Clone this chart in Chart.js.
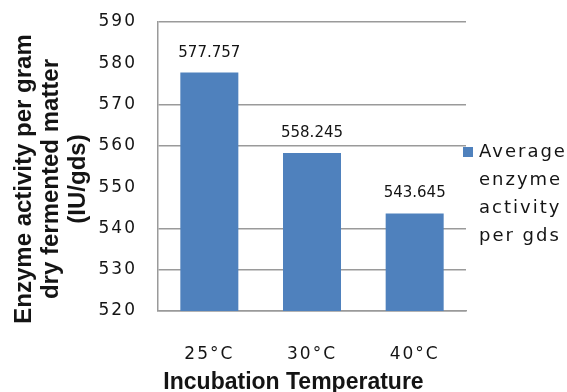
<!DOCTYPE html>
<html>
<head>
<meta charset="utf-8">
<script src="https://cdn.jsdelivr.net/npm/chart.js@4.4.1/dist/chart.umd.min.js"></script>
<style>
  html, body { margin: 0; padding: 0; background: #ffffff; }
  #wrap { width: 567px; height: 392px; position: relative; }
</style>
</head>
<body>
<div id="wrap"><canvas id="c"></canvas></div>
<script>
// Incubation temperatures and the measured enzyme activity (IU/gds)
const temperatures = ['25°C', '30°C', '40°C'];
const enzymeActivity = [577.757, 558.245, 543.645];
const seriesLabel = ['Average', 'enzyme', 'activity', 'per gds'];
const yTitleLines = ['Enzyme activity per gram', 'dry fermented matter', '(IU/gds)'];
const xTitle = 'Incubation Temperature';
const yMin = 520, yMax = 590, yStep = 10;
const faintTicks = [550, 580];

const barBlue = '#4F81BD';
const lineGrey = '#9a9a9a';
const inkColor = '#141414';
const wideSpacing = '2px';

// wider letter spacing for the axis tick text
const spacing = {
  id: 'spacing',
  beforeUpdate(chart) { chart.ctx.letterSpacing = wideSpacing; },
  beforeDraw(chart) { chart.ctx.letterSpacing = wideSpacing; }
};

// value labels above bars, side legend and axis titles
const annotate = {
  id: 'annotate',
  afterDatasetsDraw(chart) {
    const ctx = chart.ctx;
    const meta = chart.getDatasetMeta(0);
    ctx.save();
    ctx.letterSpacing = '0px';
    ctx.font = '15px "DejaVu Sans"';
    ctx.fillStyle = inkColor;
    ctx.textAlign = 'center';
    ctx.textBaseline = 'alphabetic';
    meta.data.forEach((bar, i) => {
      ctx.fillText(enzymeActivity[i].toFixed(3), bar.x, bar.y - 16);
    });
    ctx.restore();
  },
  afterDraw(chart) {
    const ctx = chart.ctx;
    const area = chart.chartArea;
    ctx.save();
    // legend
    ctx.fillStyle = barBlue;
    ctx.fillRect(area.right - 3, 147, 10, 10);
    ctx.fillStyle = inkColor;
    ctx.letterSpacing = wideSpacing;
    ctx.font = '18px "DejaVu Sans"';
    ctx.textAlign = 'left';
    ctx.textBaseline = 'middle';
    seriesLabel.forEach((t, i) => ctx.fillText(t, area.right + 13, 152 + i * 28));
    // axis titles
    ctx.letterSpacing = '0px';
    ctx.font = 'bold 23px "Liberation Sans"';
    ctx.textAlign = 'center';
    ctx.textBaseline = 'alphabetic';
    ctx.fillText(xTitle, 293.5, 389);
    ctx.font = 'bold 24px "Liberation Sans"';
    ctx.translate(0, 179);
    ctx.rotate(-Math.PI / 2);
    yTitleLines.forEach((t, i) => ctx.fillText(t, 0, 31 + i * 27));
    ctx.restore();
  }
};

new Chart(document.getElementById('c'), {
  type: 'bar',
  data: {
    labels: temperatures,
    datasets: [{
      label: seriesLabel.join(' '),
      data: enzymeActivity,
      backgroundColor: barBlue,
      borderWidth: 0,
      barPercentage: 0.565,
      categoryPercentage: 1
    }]
  },
  options: {
    responsive: true,
    maintainAspectRatio: false,
    animation: false,
    layout: { padding: { top: 22, right: 101, bottom: 0, left: 0 } },
    plugins: { legend: { display: false }, tooltip: { enabled: false } },
    scales: {
      x: {
        grid: { display: false, drawTicks: false },
        border: { display: true, color: lineGrey, width: 1.5 },
        ticks: { font: { family: 'DejaVu Sans', size: 17 }, color: inkColor, padding: 33 },
        afterFit(s) { s.height = 81; }
      },
      y: {
        min: yMin,
        max: yMax,
        ticks: { stepSize: yStep, font: { family: 'DejaVu Sans', size: 17 }, color: inkColor, padding: 21 },
        grid: {
          drawTicks: false,
          lineWidth: 1.5,
          color: c => (c.tick && faintTicks.includes(c.tick.value)) ? 'rgba(0,0,0,0)' : lineGrey
        },
        border: { display: true, color: lineGrey, width: 1.5 },
        afterFit(s) {
          s.width = 158;
          s.paddingTop = 0;
          s.paddingBottom = 0;
        }
      }
    }
  },
  plugins: [spacing, annotate]
});
</script>
</body>
</html>
